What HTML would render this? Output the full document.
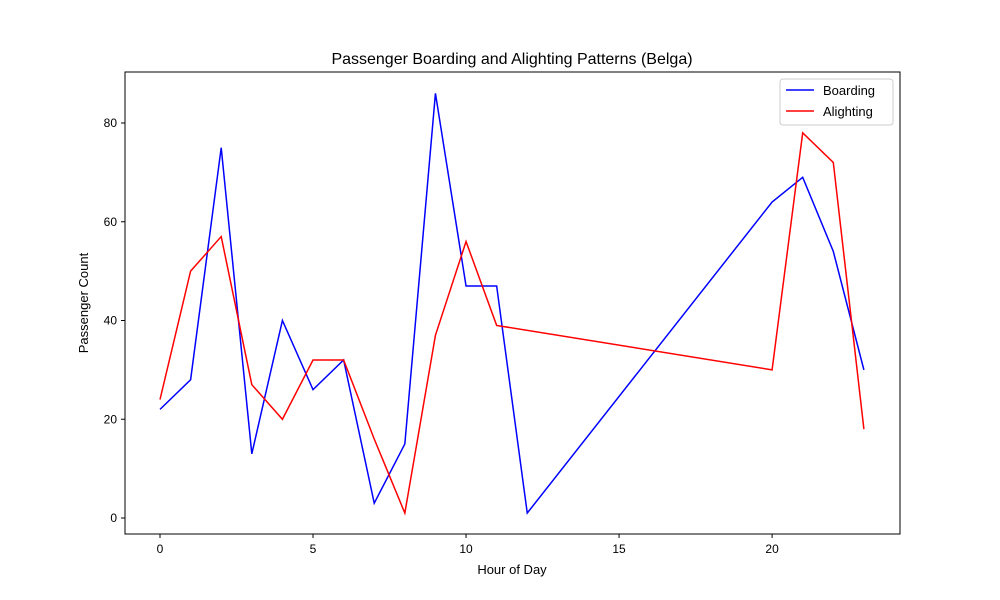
<!DOCTYPE html>
<html><head><meta charset="utf-8"><style>body{margin:0;background:#fff}svg{display:block;font-family:"Liberation Sans","DejaVu Sans",sans-serif}</style></head>
<body>
<svg id="chart" width="1000" height="600">
<rect x="0" y="0" width="1000" height="600" fill="#fff"/>
<text x="512" y="64" text-anchor="middle" font-size="16">Passenger Boarding and Alighting Patterns (Belga)</text>
<text x="512" y="574" text-anchor="middle" font-size="13">Hour of Day</text>
<text x="88" y="303" text-anchor="middle" font-size="13" transform="rotate(-90 88 303)">Passenger Count</text>
<g id="ticks"></g>
<g id="series"></g>
<rect x="125" y="72" width="775" height="462" fill="none" stroke="#000" stroke-width="1"/>
<g>
<rect x="780" y="79" width="113" height="46" rx="3" fill="#fff" stroke="#ccc"/>
<line x1="786" y1="90" x2="814" y2="90" stroke="blue" stroke-width="1.5"/>
<text x="823" y="95" font-size="13">Boarding</text>
<line x1="786" y1="111" x2="814" y2="111" stroke="red" stroke-width="1.5"/>
<text x="823" y="116" font-size="13">Alighting</text>
</g>
</svg>
<script>
const boardHours=[0,1,2,3,4,5,6,7,8,9,10,11,12,20,21,22,23];
const boardValues=[22,28,75,13,40,26,32,3,15,86,47,47,1,64,69,54,30];
const alightHours=[0,1,2,3,4,5,6,7,8,9,10,11,20,21,22,23];
const alightValues=[24,50,57,27,20,32,32,16,1,37,56,39,30,78,72,18];
const xTicks=[0,5,10,15,20];
const yTicks=[0,20,40,60,80];
const NS="http://www.w3.org/2000/svg";
const xs=v=>160+v*(863.9-160)/23;
const ys=v=>518-v*(518-123)/80;
const tg=document.getElementById('ticks');
function mk(t,a,p){const e=document.createElementNS(NS,t);for(const k in a)e.setAttribute(k,a[k]);p.appendChild(e);return e;}
xTicks.forEach(t=>{const g=mk('g',{},tg);


mk('line',{x1:xs(t),x2:xs(t),y1:534,y2:538,stroke:'#000'},g);
const tx=mk('text',{x:xs(t),y:553,'text-anchor':'middle','font-size':12},g);tx.textContent=t;});
yTicks.forEach(t=>{const g=mk('g',{},tg);


mk('line',{x1:121,x2:125,y1:ys(t),y2:ys(t),stroke:'#000'},g);
const tx=mk('text',{x:117,y:ys(t)+4,'text-anchor':'end','font-size':12},g);tx.textContent=t;});
const sg=document.getElementById('series');
function line(h,v,c,n){const p=mk('polyline',{points:h.map((x,i)=>xs(x)+','+ys(v[i])).join(' '),fill:'none',stroke:c,'stroke-width':1.5},sg);

}
line(boardHours,boardValues,'blue','boarding-line');
line(alightHours,alightValues,'red','alighting-line');
</script>
</body></html>
